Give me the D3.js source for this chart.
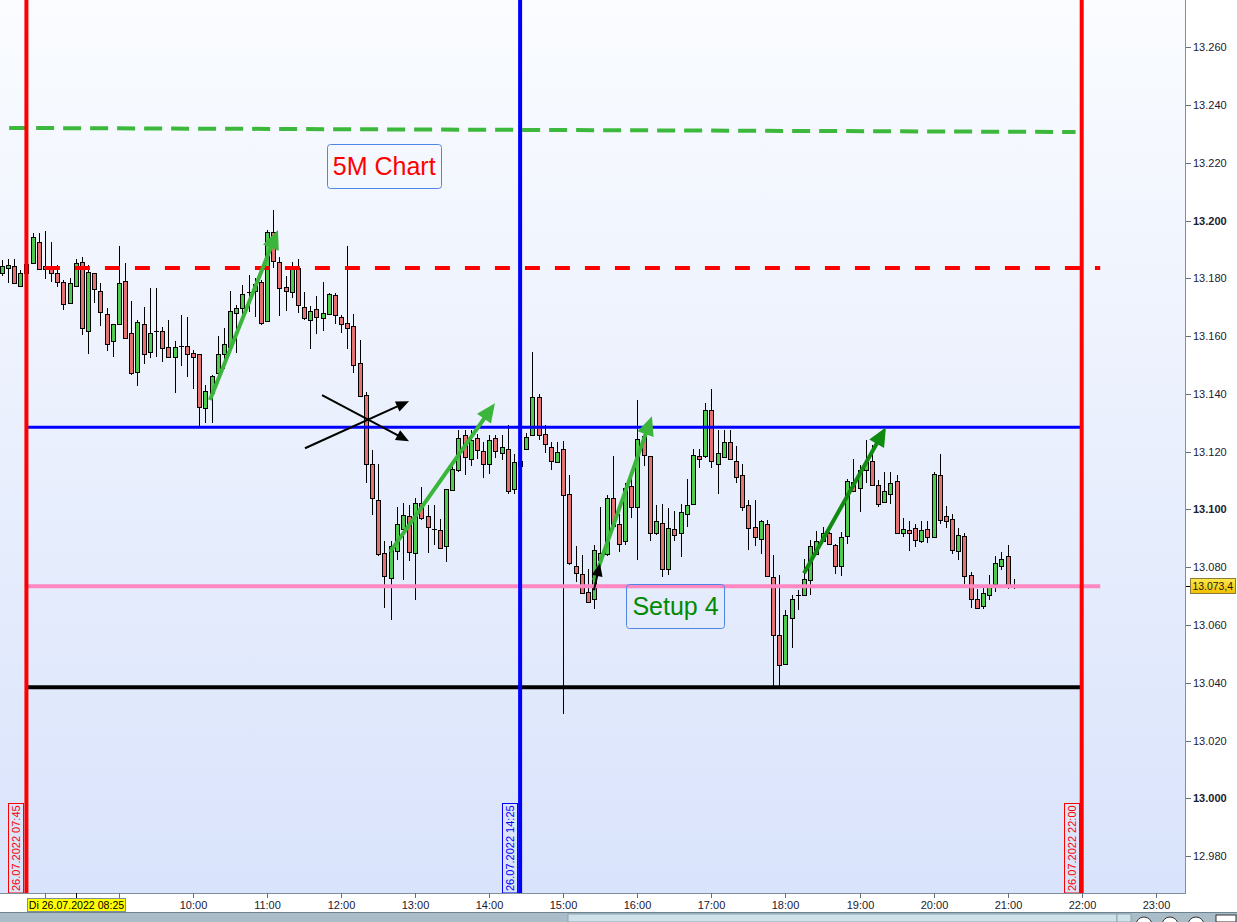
<!DOCTYPE html>
<html><head><meta charset="utf-8">
<script src="https://cdn.jsdelivr.net/npm/d3@7"></script>
<style>body{margin:0;background:#fff;} svg{display:block;font-family:"Liberation Sans",Arial,sans-serif;}</style>
</head><body><svg id="c" width="1237" height="922"></svg>
<script>
// ---------- DATA ----------
const startTime = "07:25";      // first 5-minute bar
const barMinutes = 5;
const open  = [13181.8,13183.5,13184.3,13177.5,13182.0,13185.4,13192.6,13184.3,13183.2,13181.8,13178.8,13171.6,13177.4,13185.7,13161.9,13181.8,13175.6,13167.6,13158.2,13164.1,13179.1,13161.0,13147.5,13164.1,13154.6,13161.9,13161.8,13156.1,13152.7,13156.6,13156.6,13154.3,13153.8,13135.0,13140.4,13147.1,13153.8,13156.3,13167.9,13169.8,13175.4,13175.6,13178.9,13165.3,13196.0,13185.7,13176.9,13175.2,13183.5,13170.0,13165.6,13169.5,13166.2,13167.7,13174.1,13166.5,13164.4,13163.5,13150.6,13139.6,13115.9,13103.4,13084.9,13076.1,13085.6,13093.1,13097.6,13085.0,13102.4,13097.6,13093.1,13093.0,13087.4,13106.9,13113.6,13125.7,13117.4,13124.6,13120.3,13115.9,13124.6,13119.4,13121.1,13107.2,13115.2,13121.1,13125.7,13138.8,13126.3,13121.7,13116.3,13120.8,13105.2,13080.4,13077.8,13071.4,13068.9,13082.4,13084.7,13104.1,13094.8,13089.1,13108.2,13100.7,13125.5,13118.4,13091.7,13095.3,13079.3,13093.1,13091.7,13098.6,13102.0,13118.4,13118.4,13134.6,13115.6,13118.2,13123.2,13116.7,13111.9,13101.7,13093.9,13089.6,13095.1,13076.6,13056.4,13046.6,13062.5,13070.3,13070.5,13075.7,13084.7,13089.1,13091.7,13087.6,13080.4,13090.7,13109.5,13107.5,13113.6,13116.7,13108.6,13102.6,13105.5,13109.8,13091.7,13092.8,13093.7,13089.1,13093.1,13090.3,13111.9,13097.6,13096.6,13085.6,13090.7,13077.2,13068.9,13066.6,13070.3,13074.1,13080.4,13083.8,13073.4];
const high  = [13186.4,13186.6,13186.6,13182.9,13186.4,13195.7,13195.6,13196.4,13192.6,13184.6,13179.4,13180.0,13186.6,13187.4,13184.6,13182.0,13178.3,13169.8,13164.2,13191.2,13185.4,13172.2,13165.6,13170.0,13176.6,13176.6,13163.3,13165.6,13158.3,13167.3,13166.7,13155.2,13154.0,13143.1,13146.5,13160.0,13163.0,13175.6,13170.8,13177.7,13181.2,13180.0,13179.5,13196.8,13203.7,13187.5,13180.8,13185.7,13186.6,13175.2,13170.4,13173.9,13178.8,13175.1,13175.1,13167.3,13191.2,13167.7,13158.6,13140.7,13120.5,13115.7,13089.0,13089.0,13100.9,13102.3,13101.5,13104.1,13107.8,13101.5,13101.5,13096.8,13107.0,13115.9,13127.5,13127.5,13127.5,13126.3,13123.4,13125.7,13125.7,13125.7,13129.4,13119.1,13118.7,13126.4,13154.4,13139.9,13129.2,13123.4,13123.4,13123.6,13111.9,13087.3,13084.1,13079.5,13087.6,13100.8,13104.9,13118.4,13098.6,13109.0,13112.4,13137.9,13127.5,13118.4,13101.5,13102.0,13100.5,13099.5,13102.0,13110.4,13120.9,13121.1,13136.7,13141.6,13127.5,13127.5,13127.5,13121.9,13115.9,13103.4,13103.2,13096.3,13096.3,13084.1,13077.2,13065.3,13070.3,13072.2,13083.0,13089.3,13092.6,13094.0,13092.2,13088.2,13092.2,13110.7,13117.3,13115.3,13124.0,13122.2,13110.1,13113.0,13113.0,13111.9,13096.9,13095.9,13094.9,13096.0,13096.0,13113.0,13119.1,13101.1,13098.3,13093.7,13092.0,13078.3,13072.6,13073.1,13077.2,13083.8,13085.1,13087.6,13075.8];
const low   = [13181.0,13178.5,13178.1,13177.0,13181.0,13185.0,13182.9,13179.8,13178.9,13177.1,13169.0,13171.5,13176.9,13160.4,13153.8,13171.6,13163.5,13154.9,13152.9,13164.0,13159.0,13146.5,13142.8,13150.2,13152.5,13152.9,13151.1,13152.8,13140.4,13149.7,13145.9,13141.8,13128.6,13130.0,13130.0,13145.9,13148.5,13156.0,13154.2,13166.4,13168.5,13166.7,13164.0,13165.0,13183.5,13167.1,13168.8,13173.1,13167.9,13165.6,13155.4,13160.6,13161.9,13167.3,13164.1,13161.0,13155.4,13147.3,13139.0,13109.0,13098.0,13083.8,13065.9,13061.6,13082.4,13075.6,13082.2,13068.8,13096.3,13084.9,13087.6,13086.6,13081.8,13106.9,13113.0,13112.1,13115.0,13117.4,13110.9,13112.2,13117.8,13117.1,13105.5,13105.5,13113.5,13120.5,13125.4,13124.0,13119.6,13113.8,13116.0,13029.3,13080.7,13074.9,13070.9,13067.7,13065.7,13081.7,13084.0,13092.8,13085.3,13087.6,13096.9,13082.4,13115.0,13089.1,13091.0,13076.6,13077.2,13089.0,13083.5,13093.9,13101.5,13114.5,13117.7,13114.5,13105.5,13117.7,13117.1,13109.0,13099.4,13086.1,13087.4,13084.7,13076.6,13039.0,13039.0,13046.0,13052.0,13065.1,13069.9,13070.5,13084.1,13088.6,13087.6,13077.5,13077.0,13088.0,13106.0,13099.1,13109.1,13108.0,13100.9,13102.3,13101.8,13091.4,13090.5,13085.6,13087.0,13088.4,13088.4,13090.0,13094.8,13093.6,13084.5,13082.6,13074.1,13066.0,13065.7,13065.7,13068.5,13071.4,13078.9,13072.6,13072.6];
const close = [13184.3,13184.6,13178.5,13181.8,13185.0,13194.5,13183.4,13183.4,13182.0,13178.9,13171.0,13178.3,13185.2,13162.7,13182.2,13176.2,13168.3,13157.2,13164.1,13178.3,13159.2,13147.1,13164.8,13154.0,13161.0,13161.9,13156.0,13152.9,13156.1,13156.6,13153.7,13152.9,13135.5,13141.0,13146.2,13153.8,13157.3,13168.7,13169.8,13174.5,13175.4,13178.0,13164.4,13196.0,13186.0,13176.6,13175.6,13184.1,13170.8,13166.2,13168.8,13166.5,13167.9,13174.5,13167.2,13164.1,13163.0,13150.0,13139.3,13115.7,13104.1,13084.5,13077.1,13087.4,13095.1,13098.0,13085.3,13102.4,13096.9,13093.9,13093.1,13086.7,13107.0,13113.9,13124.9,13118.0,13124.0,13120.5,13115.9,13124.0,13120.2,13121.5,13106.4,13116.3,13116.9,13125.1,13139.0,13125.7,13122.8,13116.7,13120.0,13104.9,13081.3,13078.1,13071.2,13067.9,13086.1,13084.8,13103.8,13094.2,13088.2,13107.6,13100.9,13124.3,13119.0,13092.0,13095.9,13079.3,13093.6,13091.3,13099.1,13101.7,13118.8,13117.6,13134.4,13116.7,13119.6,13123.4,13117.4,13111.1,13100.9,13093.7,13090.3,13095.9,13077.0,13056.6,13046.2,13063.3,13069.1,13070.3,13076.0,13087.3,13089.1,13091.9,13088.0,13080.4,13090.3,13109.8,13106.4,13113.6,13116.5,13108.6,13102.0,13106.3,13109.3,13092.0,13093.1,13092.0,13089.3,13092.8,13090.5,13112.2,13096.5,13096.0,13086.1,13091.3,13076.9,13069.1,13066.0,13071.2,13073.4,13081.3,13083.0,13073.8,13073.4];

const priceTicks = [12980,13000,13020,13040,13060,13080,13100,13120,13140,13160,13180,13200,13220,13240,13260];
const hourTicks  = [8,9,10,11,12,13,14,15,16,17,18,19,20,21,22,23];
const lastPrice  = 13073.4;
const cursorTime = "08:25";
const cursorLabel = "Di 26.07.2022 08:25";

// vertical session markers
const markerTimes  = ["07:45","14:25","22:00"];
const markerLabels = ["26.07.2022 07:45","26.07.2022 14:25","26.07.2022 22:00"];

// horizontal levels: [startTime, endTime, startPrice, endPrice]
const targetLevel   = ["07:31","21:55",13232.1,13230.7];   // green dashed
const prevHighLevel = ["08:00","22:15",13183.6,13183.6];   // red dashed
const rangeHigh     = ["07:45","22:00",13128.5,13128.5];   // blue
const lastLevel     = ["07:45","22:15",13073.4,13073.4];   // pink
const rangeLow      = ["07:45","22:00",13038.4,13038.4];   // black

// arrows: [fromTime, fromPrice, toTime, toPrice]
const arrowsLight = [["10:13.7",13137.9,"11:08.8",13196.8],["12:39.6",13085.2,"14:04.6",13136.8],["15:24.8",13075.5,"16:11.8",13132.3]];
const arrowsDark  = [["18:15",13077.9,"19:21.4",13128.5]];
const arrowsBlack = [["11:44.5",13139.6,"12:55",13123.6],["11:30.7",13121.2,"12:55",13137.5],["15:24.8",13072.0,"15:29.7",13081.4]];

// text notes: [text, leftTime, topPrice]
const noteTitle = ["5M Chart","11:48.3",13226.6];
const noteSetup = ["Setup 4","15:50.8",13074.1];

// ---------- SETUP ----------
const W = 1237, H = 922, plotR = 1185.5, plotB = 893;
const toMin = s => { const [h,m] = s.split(":").map(Number); return h*60 + m; };
const x = d3.scaleLinear().domain([443.6, 1404.1]).range([0, plotR]);
const y = d3.scaleLinear().domain([12967.2, 13276.4]).range([plotB, 0]);
const de = d3.formatLocale({decimal:",", thousands:".", grouping:[3], currency:["","€"]});
const fmtTick = de.format(",.0f"), fmtLast = de.format(",.1f");

const svg = d3.select("#c");
const defs = svg.append("defs");
const g1 = defs.append("linearGradient").attr("id","bg").attr("x1",0).attr("y1",0).attr("x2",0).attr("y2",1);
g1.append("stop").attr("offset","0%").attr("stop-color","#fafcff");
g1.append("stop").attr("offset","100%").attr("stop-color","#d9e3fb");
const g2 = defs.append("linearGradient").attr("id","gold").attr("x1",0).attr("y1",0).attr("x2",0).attr("y2",1);
g2.append("stop").attr("offset","0%").attr("stop-color","#ffe94a");
g2.append("stop").attr("offset","100%").attr("stop-color","#f0be00");

svg.append("rect").attr("width",W).attr("height",H).attr("fill","#fff");
svg.append("rect").attr("x",0).attr("y",0).attr("width",plotR).attr("height",plotB).attr("fill","url(#bg)");

// ---------- CANDLES ----------
const t0 = toMin(startTime);
const bars = open.map((o,i)=>({t:t0+i*barMinutes, o, h:high[i], l:low[i], c:close[i]}));
const cg = svg.append("g").attr("shape-rendering","crispEdges");
const GREEN = "#4fcb4f", RED = "#e57272";
bars.forEach(d=>{
  const cx = Math.round(x(d.t));
  cg.append("line").attr("x1",cx+0.5).attr("x2",cx+0.5).attr("y1",y(d.h)).attr("y2",y(d.l)).attr("stroke","#000");
  const top = Math.round(y(Math.max(d.o,d.c))), bot = Math.round(y(Math.min(d.o,d.c)));
  if (bot - top < 1) {
    cg.append("line").attr("x1",cx-2).attr("x2",cx+3).attr("y1",top+0.5).attr("y2",top+0.5).attr("stroke","#000").attr("stroke-width",1.5);
  } else {
    cg.append("rect").attr("x",cx-1.5).attr("y",top+0.5).attr("width",4).attr("height",bot-top)
      .attr("fill", d.c>d.o ? GREEN : RED).attr("stroke","#000");
  }
});

// ---------- HORIZONTAL LEVELS ----------
function level(L, color, w, dash){
  svg.append("line").attr("x1",x(toMin(L[0]))).attr("x2",x(toMin(L[1])))
    .attr("y1",y(L[2])).attr("y2",y(L[3])).attr("stroke",color).attr("stroke-width",w)
    .attr("stroke-dasharray",dash||null);
}
level(targetLevel, "#3cb93c", 4, "18,9");
level(prevHighLevel, "#ff0000", 4, "15,15");
level(rangeHigh, "#0000ff", 3);
level(lastLevel, "#ff88c2", 4);
level(rangeLow, "#000000", 4);

// ---------- VERTICAL MARKERS ----------
const markerColors = ["#ff0000","#0000ff","#ff0000"];
markerTimes.forEach((t,i)=>{
  const xv = x(toMin(t));
  svg.append("line").attr("x1",xv).attr("x2",xv).attr("y1",0).attr("y2",plotB)
    .attr("stroke",markerColors[i]).attr("stroke-width",4);
  svg.append("rect").attr("x",Math.round(xv)-17.5).attr("y",803.5).attr("width",15).attr("height",89.5)
    .attr("fill","none").attr("stroke",markerColors[i]).attr("stroke-width",1);
  svg.append("text").attr("transform",`translate(${Math.round(xv)-6},891) rotate(-90)`)
    .attr("font-size",11).attr("fill",markerColors[i]).text(markerLabels[i]);
});

// ---------- ARROWS ----------
function arrow(a, color, w, hl, hw){
  const x1 = x(toMin(a[0])), y1 = y(a[1]), x2 = x(toMin(a[2])), y2 = y(a[3]);
  const ang = Math.atan2(y2-y1, x2-x1), c = Math.cos(ang), s = Math.sin(ang);
  const bx = x2 - hl*c, by = y2 - hl*s;
  svg.append("line").attr("x1",x1).attr("y1",y1).attr("x2",bx+2*c).attr("y2",by+2*s)
    .attr("stroke",color).attr("stroke-width",w);
  svg.append("path").attr("d",`M${x2},${y2}L${bx - hw/2*s},${by + hw/2*c}L${bx + hw/2*s},${by - hw/2*c}Z`)
    .attr("fill",color);
}
arrowsLight.forEach(a=>arrow(a,"#3bb53b",4,19,17));
arrowsDark.forEach(a=>arrow(a,"#118a11",4,19,17));
arrowsBlack.forEach(a=>arrow(a,"#000",2,13,11));

// ---------- NOTES ----------
function note(n, color, w, h){
  const nx = x(toMin(n[1])), ny = y(n[2]);
  svg.append("rect").attr("x",Math.round(nx)+0.5).attr("y",Math.round(ny)+0.5).attr("width",w).attr("height",h)
    .attr("rx",3).attr("fill","none").attr("stroke","#4f86e6");
  svg.append("text").attr("x",nx+w/2+0.5).attr("y",ny+h/2+9).attr("text-anchor","middle")
    .attr("font-size",25).attr("fill",color).text(n[0]);
}
note(noteTitle, "#ff0000", 114, 44);
note(noteSetup, "#008a00", 98, 44);

// ---------- RIGHT AXIS ----------
svg.append("rect").attr("x",plotR+0.5).attr("y",0).attr("width",W-plotR).attr("height",plotB).attr("fill","#fff");
const ax = svg.append("g").attr("shape-rendering","crispEdges");
ax.append("line").attr("x1",plotR).attr("x2",plotR).attr("y1",0).attr("y2",plotB+0.5).attr("stroke","#7f8f9c");
priceTicks.forEach(p=>{
  const yy = Math.round(y(p))+0.5;
  ax.append("line").attr("x1",plotR).attr("x2",plotR+5).attr("y1",yy).attr("y2",yy).attr("stroke","#5f6f7c");
  svg.append("text").attr("x",1193).attr("y",yy).attr("dy","0.36em").attr("font-size",11)
    .attr("font-weight", p % 100 === 0 ? "bold" : "normal").attr("fill","#1a2030").text(fmtTick(p));
});
// last price marker
const ly = Math.round(y(lastPrice))+0.5;
ax.append("line").attr("x1",plotR).attr("x2",plotR+6).attr("y1",ly).attr("y2",ly).attr("stroke","#000");
svg.append("rect").attr("x",1190.5).attr("y",ly-8).attr("width",45).attr("height",15)
  .attr("fill","url(#gold)").attr("stroke","#8a7a40");
svg.append("text").attr("x",1192.5).attr("y",ly).attr("dy","0.36em").attr("font-size",10.4).attr("fill","#1a1a1a").text(fmtLast(lastPrice));

// ---------- BOTTOM AXIS ----------
const cxr = Math.round(x(toMin(cursorTime)))+0.5;
const boxL = cxr-49, boxR = cxr+49;
ax.append("line").attr("x1",0).attr("x2",plotR).attr("y1",plotB+0.5).attr("y2",plotB+0.5).attr("stroke","#7f8f9c");
hourTicks.forEach(h=>{
  const xx = Math.round(x(h*60))+0.5;
  ax.append("line").attr("x1",xx).attr("x2",xx).attr("y1",plotB).attr("y2",plotB+5).attr("stroke","#5f6f7c");
  // labels hidden by the cursor date box are not drawn
  if (xx + 14 < boxL || xx - 14 > boxR)
    svg.append("text").attr("x",xx).attr("y",909).attr("text-anchor","middle").attr("font-size",11)
      .attr("fill","#1a2030").text(d3.format("02d")(h)+":00");
});
ax.append("line").attr("x1",cxr).attr("x2",cxr).attr("y1",plotB).attr("y2",plotB+5).attr("stroke","#000");
svg.append("rect").attr("x",boxL).attr("y",898.5).attr("width",98).attr("height",13)
  .attr("fill","#ffff00").attr("stroke","#7f8f9c");
svg.append("text").attr("x",cxr).attr("y",909).attr("text-anchor","middle").attr("font-size",10.6)
  .attr("fill","#000").text(cursorLabel);

// ---------- STATUS STRIP ----------
svg.append("rect").attr("x",0).attr("y",912).attr("width",W).attr("height",10).attr("fill","#a9bcc7");
svg.append("line").attr("x1",0).attr("x2",W).attr("y1",912.5).attr("y2",912.5).attr("stroke","#6e8491");
svg.append("rect").attr("x",568).attr("y",914).attr("width",549).attr("height",8).attr("fill","#cfe2ea").attr("stroke","#8fa4b0");
svg.append("rect").attr("x",1117).attr("y",914).attr("width",14).attr("height",8).attr("fill","#cfe2ea").attr("stroke","#8fa4b0");
[1144,1170,1196].forEach(cx=>{
  svg.append("circle").attr("cx",cx).attr("cy",925).attr("r",8).attr("fill","#fff").attr("stroke","#333");
});
svg.append("rect").attr("x",1216).attr("y",915).attr("width",20).attr("height",7).attr("fill","#fff").attr("stroke","#333");
</script></body></html>
